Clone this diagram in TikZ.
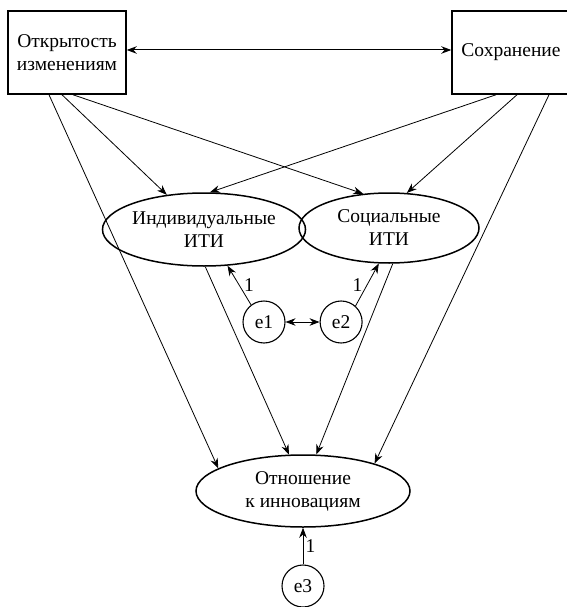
\documentclass[tikz,border=0pt]{standalone}
\usepackage{fontspec}
\setmainfont{Liberation Serif}
\newfontfamily\semfont{Liberation Serif}
\usetikzlibrary{arrows.meta, positioning, shapes.geometric}

\begin{document}
\begin{tikzpicture}[
				x=1pt, y=-1pt,
				font=\semfont\fontsize{19.5}{23}\selectfont,
				mbox/.style={draw, line width=1.5pt, minimum width=118pt, minimum height=83pt, inner sep=0pt, align=center},
				mlatent/.style={draw, ellipse, line width=1.5pt, inner sep=0pt, align=center},
				merr/.style={draw, circle, line width=1.1pt, minimum size=42pt, inner sep=0pt},
				arrowstyle/.style={-{Stealth[length=10pt, width=7.5pt]}, line width=0.8pt},
				dblarrowstyle/.style={{Stealth[length=10pt, width=7.5pt]}-{Stealth[length=10pt, width=7.5pt]}, line width=1pt}
			]
			\useasboundingbox (0,0) rectangle (566,607);
			\node[mbox] (open) at (67,52.5) {Открытость\\изменениям};
			\node[mbox] (cons) at (511,52.5) {Сохранение};
			\node[mlatent, minimum width=178pt, minimum height=73pt] (indiv) at (204,229.5) {Индивидуальные\\ИТИ};
			\node[mlatent, minimum width=180pt, minimum height=70pt] (social) at (389,228) {Социальные\\ИТИ};
			\node[mlatent, minimum width=214pt, minimum height=72pt] (attit) at (303,491) {Отношение\\к инновациям};
			\node[merr] (e1) at (264,322) {e1};
			\node[merr, right=34pt of e1] (e2) {e2};
			\node[merr] (e3) at (303,586) {e3};
			\draw[dblarrowstyle] ([yshift=2.5pt]open.east) -- ([yshift=2.5pt]cons.west);
			\draw[arrowstyle] ([xshift=-5pt]open.south) -- (indiv.137);
			\draw[arrowstyle] ([xshift=6pt]open.south) -- (social.127);
			\draw[arrowstyle] ([xshift=-18pt]open.south) -- (attit.165);
			\draw[arrowstyle] ([xshift=-15pt]cons.south) -- (indiv.81);
			\draw[arrowstyle] ([xshift=6pt]cons.south) -- (social.63);
			\draw[arrowstyle] ([xshift=38pt]cons.south) -- (attit.21);
			\draw[arrowstyle] (indiv.-88) -- (attit.111);
			\draw[arrowstyle] (social.-84) -- (attit.70);
			\draw[arrowstyle] (e1.127) -- node[right=1pt] {1} (indiv.-57);
			\draw[arrowstyle] (e2.48) -- node[left=1pt] {1} (social.-106);
			\draw[dblarrowstyle, line width=0.8pt] (e1) -- (e2);
			\draw[arrowstyle] (e3) -- node[right=-1pt] {1} (attit);
		\end{tikzpicture}
\end{document}
